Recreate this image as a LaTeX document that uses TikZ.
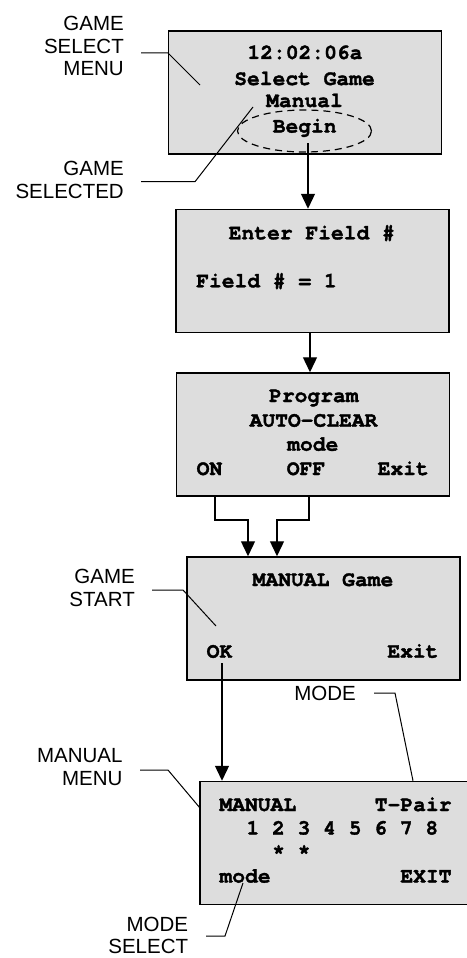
\documentclass[tikz,border=0pt]{standalone}
\usepackage{fontspec}
\setmainfont{Liberation Sans}
\setmonofont{texgyrecursor}[Extension=.otf,UprightFont=*-regular,BoldFont=*-bold,BoldFeatures={FakeBold=1.6}]
\usetikzlibrary{arrows.meta,shapes.geometric}
\definecolor{lcdgray}{RGB}{221,221,221}

\begin{document}
\begin{tikzpicture}[x=1pt,y=1pt,yscale=-1,xscale=1,
  screen/.style={draw,line width=1.5pt,fill=lcdgray,inner sep=0pt,minimum width=273pt,minimum height=123pt},
  lcd/.style={inner sep=0pt,font=\ttfamily\bfseries\fontsize{21.3}{24}\selectfont},
  callout/.style={inner sep=0pt,anchor=north east,align=right,font=\fontsize{20.5}{22.7}\selectfont},
  flow/.style={line width=1.3pt,-{Triangle[length=15pt,width=14pt]}},
  leader/.style={line width=1pt}]
\useasboundingbox (0,0) rectangle (466,958);

%Shape: Screens
\node[screen] (selscr) at (305,92.5) {};
\node[screen] (fieldscr) at (312.5,271) {};
\node[screen] (clearscr) at (313,434.5) {};
\node[screen] (gamescr) at (323.5,618.5) {};
\node[screen] (menuscr) at (336.5,843) {};

% Text Node: game select menu
\node[lcd,anchor=base] (clock) at (305,59) {12:02:06a};
\node[lcd,anchor=base] (selgame) at (304.5,85) {Select Game};
\node[lcd,anchor=base] (manual) at (304.5,107) {Manual};
\node[lcd,anchor=base] (begin) at (304.7,132.5) {Begin};
\node[draw,line width=1.2pt,dash pattern=on 7pt off 5pt,ellipse,inner sep=0pt,minimum width=134pt,minimum height=42pt] (beginring) at (304.5,131) {};

% Text Node: field
\node[lcd,anchor=base] (enterfield) at (311.8,239.3) {Enter Field \#};
\node[lcd,anchor=base west] (fieldno) at (196,287.3) {Field \# = 1};

% Text Node: auto-clear
\node[lcd,anchor=base] (program) at (313.8,402) {Program};
\node[lcd,anchor=base] (autoclear) at (313.5,426.7) {AUTO-CLEAR};
\node[lcd,anchor=base] (clearmode) at (312.8,450.7) {mode};
\node[lcd,anchor=base west] (on) at (196.5,475) {ON};
\node[lcd,anchor=base] (off) at (306,475) {OFF};
\node[lcd,anchor=base east] (clearexit) at (429,475) {Exit};

% Text Node: manual game
\node[lcd,anchor=base] (manualgame) at (323,586) {MANUAL Game};
\node[lcd,anchor=base west] (ok) at (206.5,657.7) {OK};
\node[lcd,anchor=base east] (gameexit) at (438.7,657.7) {Exit};

% Text Node: manual menu
\node[lcd,anchor=base west] (menutitle) at (219.3,811) {MANUAL};
\node[lcd,anchor=base east] (tpair) at (451.7,811) {T-Pair};
\node[lcd,anchor=base west] (targets) at (246.3,834.5) {1 2 3 4 5 6 7 8};
\node[lcd,anchor=base west] (stars) at (272,858.3) {*~*};
\node[lcd,anchor=base west] (menumode) at (219.3,882.5) {mode};
\node[lcd,anchor=base east] (menuexit) at (451.7,882.5) {EXIT};

% Text Node: callouts
\node[callout] (gsmenu) at (124,16) {GAME\\SELECT\\MENU};
\node[callout] (gsselected) at (124,161.3) {GAME\\SELECTED};
\node[callout] (gsstart) at (135,569.3) {GAME\\START};
\node[callout] (modelbl) at (356,686) {MODE};
\node[callout] (mmenu) at (122.7,748.3) {MANUAL\\MENU};
\node[callout] (mselect) at (188.3,916.5) {MODE\\SELECT};

%Straight Lines: callout leaders
\coordinate (gsm1) at (141,53);
\coordinate (gsm2) at (168,53);
\coordinate (gsm3) at (200,85);
\draw[leader] (gsm1) -- (gsm2) -- (gsm3);
\coordinate (gsd1) at (141,181.7);
\coordinate (gsd2) at (195,181.7);
\coordinate (gsd3) at (253,107);
\draw[leader] (gsd1) -- (gsd2) -- (gsd3);
\coordinate (gst1) at (152,590);
\coordinate (gst2) at (183,590);
\coordinate (gst3) at (216,626);
\draw[leader] (gst1) -- (gst2) -- (gst3);
\coordinate (mod1) at (374,693);
\coordinate (mod2) at (395,693);
\coordinate (mod3) at (413,0);
\draw[leader] (mod1) -- (mod2) -- (mod3 |- menuscr.north);
\coordinate (mm1) at (140,770);
\coordinate (mm2) at (168,770);
\coordinate (mm3) at (200,808);
\draw[leader] (mm1) -- (mm2) -- (mm3);
\coordinate (ms1) at (206,936);
\coordinate (ms2) at (225,936);
\coordinate (ms3) at (243,883);
\draw[leader] (ms1) -- (ms2) -- (ms3);

%Straight Lines: flow arrows
\coordinate (selfoot) at (308,143.3);
\draw[flow] (selfoot) -- (selfoot |- fieldscr.north);
\coordinate (fieldfoot) at (310,0);
\draw[flow] (fieldfoot |- fieldscr.south) -- (fieldfoot |- clearscr.north);
\coordinate (onfoot) at (215,0);
\coordinate (onturn) at (248,520);
\draw[flow] (onfoot |- clearscr.south) |- (onturn) -- (onturn |- gamescr.north);
\coordinate (offfoot) at (309,0);
\coordinate (offturn) at (277,520);
\draw[flow] (offfoot |- clearscr.south) |- (offturn) -- (offturn |- gamescr.north);
\coordinate (okfoot) at (222,663);
\draw[flow] (okfoot) -- (okfoot |- menuscr.north);

\end{tikzpicture}
\end{document}
